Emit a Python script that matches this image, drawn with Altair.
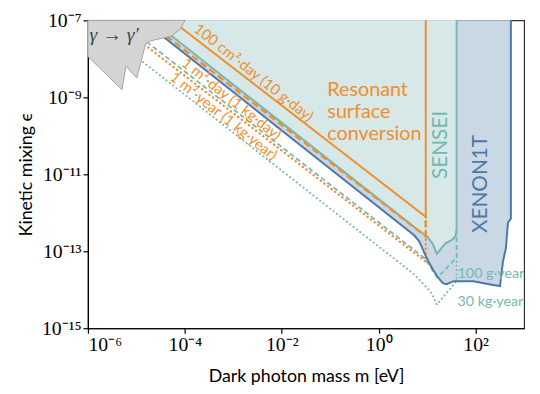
import altair as alt
import numpy as np
import pandas as pd

# ---------------- data (log10 of mass [eV] and of kinetic mixing) ----------------
grey_log_m = [-6.0, -5.297, -5.216, -4.992, -4.809, -4.707, -4.442, -4.279, -4.096, -3.994]
grey_log_eps = [-7.939, -8.802, -8.193, -8.497, -7.609, -7.533, -7.457, -7.406, -7.228, -7.0]

xenon_log_m = [-4.45, 0.731, 0.833, 0.914, 1.016, 1.118, 1.220, 1.322, 1.403, 1.546, 1.953,
               2.360, 2.503, 2.564, 2.625, 2.666, 2.727, 2.727]
xenon_log_eps = [-7.42, -12.584, -12.736, -12.964, -13.244, -13.472, -13.675, -13.827, -13.853,
                 -13.777, -13.777, -13.878, -13.904, -13.269, -12.914, -12.254, -12.152, -7.0]

sensei_log_m = [-4.401, 0.792, 0.996, 1.118, 1.200, 1.281, 1.383, 1.505, 1.587, 1.607, 1.607]
sensei_log_eps = [-7.279, -12.431, -12.609, -12.812, -13.066, -12.939, -12.787, -12.711, -12.609,
                  -12.406, -7.0]

surf_day100cm_log_m = [-4.116, 0.97, 0.97]
surf_day100cm_log_eps = [-7.152, -12.102, -7.0]

surf_day1m_log_m = [-4.381, 0.97, 0.97]
surf_day1m_log_eps = [-7.406, -12.609, -12.102]

surf_year1m_log_m = [-4.829, 0.97, 0.97]
surf_year1m_log_eps = [-7.635, -13.269, -12.102]

sensei100g_log_m = [-4.788, 0.935, 1.077, 1.200, 1.342, 1.485, 1.607, 1.607]
sensei100g_log_eps = [-7.558, -13.168, -13.421, -13.675, -13.523, -13.320, -13.168, -12.406]

sensei30kg_log_m = [-4.931, 0.731, 1.077, 1.200, 1.403, 1.607, 1.607]
sensei30kg_log_eps = [-8.015, -13.599, -14.056, -14.386, -14.081, -13.777, -13.168]

x_ticks = [1e-6, 1e-4, 1e-2, 1e0, 1e2]
x_tick_labels = ["10⁻⁶", "10⁻⁴", "10⁻²", "10⁰", "10²"]
y_ticks = [1e-15, 1e-13, 1e-11, 1e-9, 1e-7]
y_tick_labels = ["10⁻¹⁵", "10⁻¹³", "10⁻¹¹", "10⁻⁹", "10⁻⁷"]
x_domain = [1e-6, 1e3]
y_domain = [1e-15, 1e-7]

# annotation texts and their anchor points (log10 m, log10 eps)
diag_texts = ["100 cm²·day (10 g·day)", "1 m²·day (1 kg·day)", "1 m²·year (1 kg·year)"]
diag_log_m = [-2.578, -3.037, -3.200]
diag_log_eps = [-8.358, -9.043, -9.487]

reso_texts = ["Resonant", "surface", "conversion"]
reso_log_m = [-1.06, -1.06, -1.06]
reso_log_eps = [-8.954, -9.530, -10.110]

exposure_texts = ["100 g·year", "30 kg·year"]
exposure_log_m = [1.627, 1.627]
exposure_log_eps = [-13.599, -14.310]

sensei_label = ["SENSEI"]
sensei_label_pos = ([1.291], [-10.236])
xenon_label = ["XENON1T"]
xenon_label_pos = ([2.106], [-11.251])
gamma_label = ["γ → γ′"]
gamma_label_pos = ([-5.969], [-7.38])

ORANGE = "#f28e2b"
TEAL = "#76b7b2"
BLUE = "#4e79a7"


def frame(lm, le, texts=None):
    d = pd.DataFrame({
        "m": np.power(10.0, np.array(lm)),
        "eps": np.power(10.0, np.array(le)),
        "i": np.arange(len(lm)),
        "top": y_domain[1],
    })
    if texts is not None:
        d["t"] = texts
    return d


def label_expr(vals, labels):
    expr = f"'{labels[-1]}'"
    for v, lab in reversed(list(zip(vals[:-1], labels[:-1]))):
        expr = f"datum.value < {v * 3:.3g} ? '{lab}' : " + expr
    return expr


xscale = alt.Scale(type="log", domain=x_domain, nice=False)
yscale = alt.Scale(type="log", domain=y_domain, nice=False)
xaxis = alt.Axis(values=x_ticks, labelExpr=label_expr(x_ticks, x_tick_labels),
                 title="Dark photon mass m [eV]", grid=False, titlePadding=13)
yaxis = alt.Axis(values=y_ticks, labelExpr=label_expr(y_ticks, y_tick_labels),
                 title="Kinetic mixing ϵ", grid=False, titlePadding=6)
X = alt.X("m:Q", scale=xscale, axis=xaxis)
Y = alt.Y("eps:Q", scale=yscale, axis=yaxis)


def area(lm, le, fill, **kw):
    return alt.Chart(frame(lm, le)).mark_area(fill=fill, **kw).encode(
        x=X, y=Y, y2="top:Q")


def line(lm, le, color, width=2.0, dash=None, cap="butt"):
    kw = dict(stroke=color, strokeWidth=width, strokeCap=cap)
    if dash is not None:
        kw["strokeDash"] = dash
    return alt.Chart(frame(lm, le)).mark_line(**kw).encode(
        x=X, y=Y, order=alt.Order("i:Q"))


def text(lm, le, texts, **kw):
    return alt.Chart(frame(lm, le, texts)).mark_text(**kw).encode(x=X, y=Y, text="t:N")


layers = [
    area(xenon_log_m[:-1], xenon_log_eps[:-1], "#cad7e4"),
    area(sensei_log_m[:-1], sensei_log_eps[:-1], "#d6e8e7"),
    line(sensei30kg_log_m, sensei30kg_log_eps, TEAL, 2.0, [0.1, 4.2], "round"),
    line(surf_year1m_log_m, surf_year1m_log_eps, ORANGE, 2.4, [0.1, 4.5], "round"),
    line(sensei100g_log_m, sensei100g_log_eps, TEAL, 1.8, [5, 3]),
    line(xenon_log_m, xenon_log_eps, BLUE, 2.0),
    line(sensei_log_m, sensei_log_eps, TEAL, 2.0),
    line(surf_day1m_log_m, surf_day1m_log_eps, ORANGE, 2.4, [7, 4]),
    line(surf_day100cm_log_m, surf_day100cm_log_eps, ORANGE, 2.0),
    area(grey_log_m, grey_log_eps, "#d4d4d4", stroke="#a3a3a3", strokeWidth=1),
    text(diag_log_m, diag_log_eps, diag_texts, font="Lato", fontSize=15, color=ORANGE,
         angle=38.5, align="center", baseline="middle"),
    text(reso_log_m, reso_log_eps, reso_texts, font="Lato", fontSize=20, color=ORANGE,
         align="left", baseline="alphabetic"),
    text(exposure_log_m, exposure_log_eps, exposure_texts, font="Lato", fontSize=14.5,
         color=TEAL, align="left", baseline="middle"),
    text(*sensei_label_pos, sensei_label, font="Lato", fontSize=21, color=TEAL,
         angle=270, align="center", baseline="middle"),
    text(*xenon_label_pos, xenon_label, font="Lato", fontSize=21, color=BLUE,
         angle=270, align="center", baseline="middle"),
    text(*gamma_label_pos, gamma_label, font="Liberation Serif", fontSize=20,
         fontStyle="italic", color="#3d4b50", align="left", baseline="middle"),
]

chart = alt.layer(*layers).properties(
    width=442, height=312,
    autosize=alt.AutoSizeParams(type="none"),
    padding={"left": 81, "top": 10, "right": 8, "bottom": 56},
).configure_view(
    stroke="#333333", strokeWidth=1.2
).configure_axis(
    domainColor="black", domainWidth=1.2, tickColor="black", tickWidth=1.2, tickSize=5,
    labelFont="Liberation Serif", labelFontSize=20, labelColor="black", labelPadding=2,
    titleFont="Lato", titleFontSize=18, titleFontWeight="normal", titleColor="black",
)

chart.save("out.html", embed_options={"renderer": "svg", "actions": False})
